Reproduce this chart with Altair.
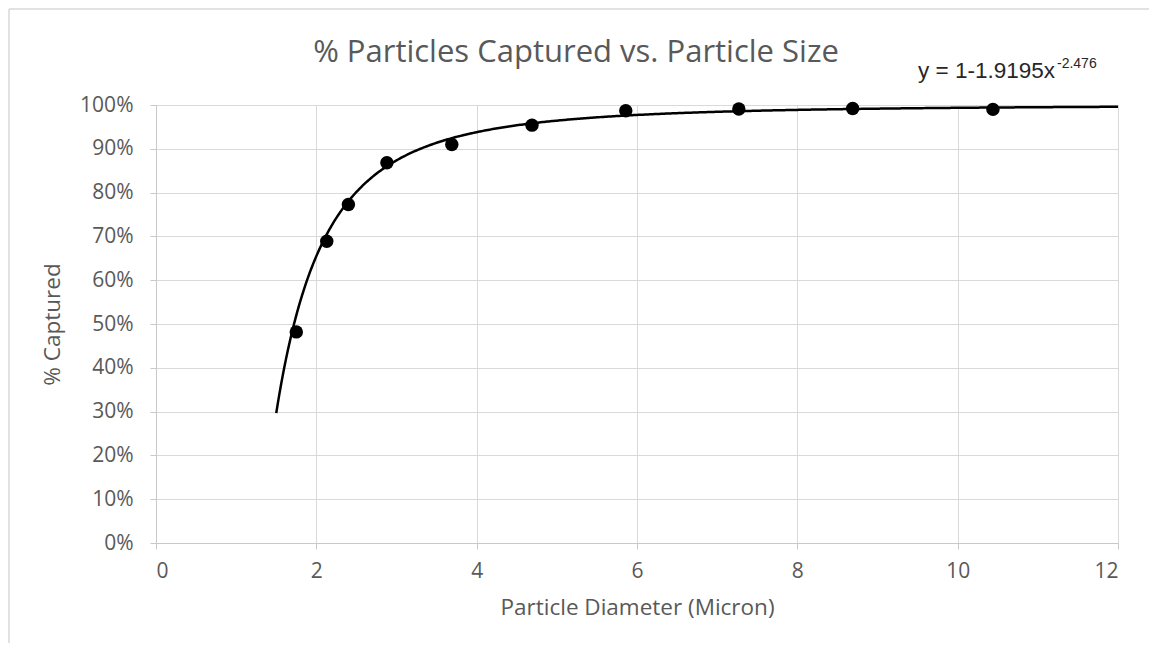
import altair as alt
import pandas as pd

# Data
diameter = [1.75, 2.13, 2.40, 2.88, 3.69, 4.69, 5.86, 7.27, 8.69, 10.44]
captured = [0.482, 0.689, 0.773, 0.868, 0.910, 0.954, 0.987, 0.991, 0.992, 0.990]

# Trendline coefficients shown on the chart: y = 1 - A * x^B
coef_a = 1.9195
coef_b = -2.476
trend_start = 1.5
trend_stop = 12.0

title_text = "% Particles Captured vs. Particle Size"
x_title = "Particle Diameter (Micron)"
y_title = "% Captured"
eq_main = f"y = 1-{coef_a}x"
eq_sup = f"{coef_b}"

W, H = 962, 438
FONT = "Open Sans"
GRAY = "#595959"

df = pd.DataFrame({"d": diameter, "c": captured})

x_scale = alt.Scale(domain=[0, 12], nice=False)
y_scale = alt.Scale(domain=[0, 1], nice=False)

x_axis = alt.Axis(
    values=[0, 2, 4, 6, 8, 10, 12], format="d", title=x_title, grid=True,
    gridColor="#d9d9d9", domainColor="#c8c8c8", tickColor="#c8c8c8", tickSize=6,
    labelFont=FONT, labelFontSize=21, labelColor=GRAY, labelPadding=11,
    titleFont=FONT, titleFontSize=22.5, titleColor=GRAY, titleFontWeight="normal",
    titlePadding=15,
)
y_axis = alt.Axis(
    values=[i / 10 for i in range(11)], format=".0%", title=y_title, grid=True,
    gridColor="#d9d9d9", domainColor="#c8c8c8", tickColor="#c8c8c8", tickSize=6,
    labelFont=FONT, labelFontSize=21, labelColor=GRAY, labelPadding=17,
    titleFont=FONT, titleFontSize=22.5, titleColor=GRAY, titleFontWeight="normal",
    titlePadding=15,
)

base = alt.Chart(df)

points = base.mark_circle(size=180, color="black", opacity=1).encode(
    x=alt.X("d:Q", scale=x_scale, axis=x_axis),
    y=alt.Y("c:Q", scale=y_scale, axis=y_axis),
)

trend = (
    alt.Chart(alt.sequence(trend_start, trend_stop + 0.001, 0.02, as_="x"))
    .transform_calculate(y=f"1 - {coef_a} * pow(datum.x, {coef_b})")
    .mark_line(color="black", strokeWidth=2.5)
    .encode(x=alt.X("x:Q", scale=x_scale), y=alt.Y("y:Q", scale=y_scale))
)

one = pd.DataFrame({"a": [0]})
border_left = alt.Chart(one).mark_rule(color="#d9d9d9", strokeWidth=1.5).encode(
    x=alt.value(-147), y=alt.value(-96), y2=alt.value(H + 100)
)
border_top = alt.Chart(one).mark_rule(color="#d9d9d9", strokeWidth=1.5).encode(
    x=alt.value(-147), x2=alt.value(W + 31), y=alt.value(-96)
)

title = alt.Chart(pd.DataFrame({"t": [title_text]})).mark_text(
    font=FONT, fontSize=31, color=GRAY, align="center", baseline="alphabetic"
).encode(text="t:N", x=alt.value(420), y=alt.value(-43))

eq1 = alt.Chart(pd.DataFrame({"t": [eq_main]})).mark_text(
    font="Liberation Sans", fontSize=22.5, color="#262626", align="left",
    baseline="alphabetic"
).encode(text="t:N", x=alt.value(762), y=alt.value(-27))

eq2 = alt.Chart(pd.DataFrame({"t": [eq_sup]})).mark_text(
    font="Liberation Sans", fontSize=14, color="#262626", align="left",
    baseline="alphabetic"
).encode(text="t:N", x=alt.value(901), y=alt.value(-37))

chart = (
    alt.layer(border_left, border_top, trend, points, title, eq1, eq2)
    .properties(
        width=W, height=H,
        autosize=alt.AutoSizeParams(type="none"),
        padding={"left": 148, "top": 97, "right": 31, "bottom": 100},
    )
    .configure_view(stroke=None)
    .configure(background="white")
)

chart.save("out.html", embed_options={"renderer": "svg", "actions": False})
